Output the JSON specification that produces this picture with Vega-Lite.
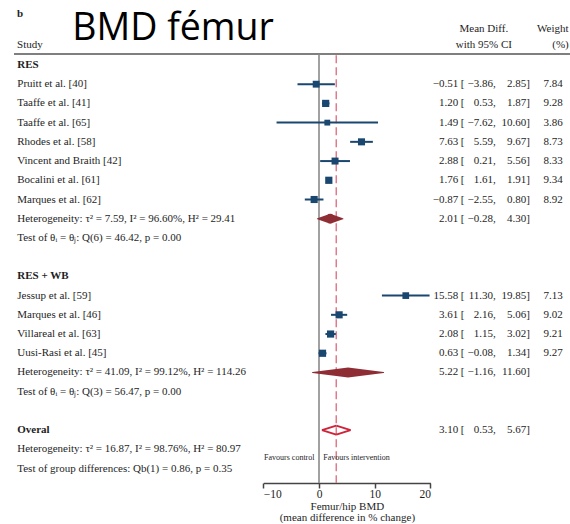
{
  "$schema": "https://vega.github.io/schema/vega-lite/v6.json",
  "width": 570,
  "height": 483,
  "padding": 0,
  "background": "white",
  "config": {
    "view": {"stroke": null},
    "text": {"font": "Liberation Serif", "fontSize": 11, "fill": "#1e1e1e"},
    "axisY": {"disable": true}
  },
  "datasets": {
    "forest": [
      {"row": 0, "label": "RES", "kind": "group"},
      {"row": 1, "label": "Pruitt et al. [40]", "kind": "study", "est": -0.51, "lower": -3.86, "upper": 2.85, "weight": 7.84},
      {"row": 2, "label": "Taaffe et al. [41]", "kind": "study", "est": 1.20, "lower": 0.53, "upper": 1.87, "weight": 9.28},
      {"row": 3, "label": "Taaffe et al. [65]", "kind": "study", "est": 1.49, "lower": -7.62, "upper": 10.60, "weight": 3.86},
      {"row": 4, "label": "Rhodes et al. [58]", "kind": "study", "est": 7.63, "lower": 5.59, "upper": 9.67, "weight": 8.73},
      {"row": 5, "label": "Vincent and Braith [42]", "kind": "study", "est": 2.88, "lower": 0.21, "upper": 5.56, "weight": 8.33},
      {"row": 6, "label": "Bocalini et al. [61]", "kind": "study", "est": 1.76, "lower": 1.61, "upper": 1.91, "weight": 9.34},
      {"row": 7, "label": "Marques et al. [62]", "kind": "study", "est": -0.87, "lower": -2.55, "upper": 0.80, "weight": 8.92},
      {"row": 8, "label": "Heterogeneity: τ² = 7.59, I² = 96.60%, H² = 29.41", "kind": "subtotal", "est": 2.01, "lower": -0.28, "upper": 4.30},
      {"row": 9, "label": "Test of θᵢ = θⱼ: Q(6) = 46.42, p = 0.00", "kind": "note"},
      {"row": 11, "label": "RES + WB", "kind": "group"},
      {"row": 12, "label": "Jessup et al. [59]", "kind": "study", "est": 15.58, "lower": 11.30, "upper": 19.85, "weight": 7.13},
      {"row": 13, "label": "Marques et al. [46]", "kind": "study", "est": 3.61, "lower": 2.16, "upper": 5.06, "weight": 9.02},
      {"row": 14, "label": "Villareal et al. [63]", "kind": "study", "est": 2.08, "lower": 1.15, "upper": 3.02, "weight": 9.21},
      {"row": 15, "label": "Uusi-Rasi et al. [45]", "kind": "study", "est": 0.63, "lower": -0.08, "upper": 1.34, "weight": 9.27},
      {"row": 16, "label": "Heterogeneity: τ² = 41.09, I² = 99.12%, H² = 114.26", "kind": "subtotal", "est": 5.22, "lower": -1.16, "upper": 11.60},
      {"row": 17, "label": "Test of θᵢ = θⱼ: Q(3) = 56.47, p = 0.00", "kind": "note"},
      {"row": 19, "label": "Overal", "kind": "overall", "est": 3.10, "lower": 0.53, "upper": 5.67},
      {"row": 20, "label": "Heterogeneity: τ² = 16.87, I² = 98.76%, H² = 80.97", "kind": "note"},
      {"row": 21, "label": "Test of group differences: Qb(1) = 0.86, p = 0.35", "kind": "note"}
    ]
  },
  "data": {"name": "forest"},
  "layer": [
    {
      "data": {"values": [{}]},
      "mark": {"type": "rule", "color": "#555555", "strokeWidth": 1.5},
      "encoding": {
        "x": {"datum": -54.76, "type": "quantitative",
              "scale": {"domain": [-10, 20], "range": [263.3, 430.4], "nice": false, "zero": false}},
        "x2": {"datum": 45.06},
        "y": {"datum": -0.57, "type": "quantitative",
              "scale": {"domain": [-3.38, 21.75], "reverse": true, "nice": false, "zero": false}}
      }
    },
    {
      "data": {"values": [{}]},
      "mark": {"type": "rule", "color": "#8a8a8a", "strokeWidth": 1.6},
      "encoding": {
        "x": {"datum": 0, "type": "quantitative"},
        "y": {"datum": -0.57, "type": "quantitative"},
        "y2": {"datum": 21.75}
      }
    },
    {
      "transform": [{"filter": "datum.kind === 'overall'"}],
      "mark": {"type": "rule", "color": "#e07b89", "strokeWidth": 1.5, "strokeDash": [8, 4]},
      "encoding": {
        "x": {"field": "est", "type": "quantitative"},
        "y": {"datum": -0.5, "type": "quantitative"},
        "y2": {"datum": 21.75}
      }
    },
    {
      "transform": [{"filter": "datum.kind === 'study'"}],
      "mark": {"type": "rule", "color": "#1a476f", "strokeWidth": 2},
      "encoding": {
        "x": {"field": "lower", "type": "quantitative",
              "axis": {
                "values": [-10, 0, 10, 20],
                "format": "d",
                "grid": false,
                "domainColor": "#444444", "domainWidth": 1.5,
                "tickColor": "#444444", "tickWidth": 1.5, "tickSize": 5,
                "labelFont": "Liberation Serif", "labelFontSize": 11.5, "labelColor": "#1e1e1e", "labelPadding": 0,
                "title": ["Femur/hip BMD", "(mean difference in % change)"],
                "titleFont": "Liberation Serif", "titleFontSize": 11, "titleFontWeight": "normal",
                "titleColor": "#1e1e1e", "titlePadding": 1, "titleLineHeight": 11
              }},
        "x2": {"field": "upper"},
        "y": {"field": "row", "type": "quantitative"}
      }
    },
    {
      "transform": [{"filter": "datum.kind === 'study'"}],
      "mark": {"type": "point", "shape": "square", "filled": true, "color": "#1a476f", "opacity": 1},
      "encoding": {
        "x": {"field": "est", "type": "quantitative"},
        "y": {"field": "row", "type": "quantitative"},
        "size": {"field": "weight", "type": "quantitative",
                 "scale": {"domain": [3.86, 9.34], "range": [34, 52]}, "legend": null}
      }
    },
    {
      "transform": [
        {"filter": "datum.kind === 'subtotal'"},
        {"fold": ["lower", "est", "upper"], "as": ["key", "value"]}
      ],
      "mark": {"type": "trail", "color": "#8f2d35"},
      "encoding": {
        "x": {"field": "value", "type": "quantitative"},
        "y": {"field": "row", "type": "quantitative"},
        "detail": {"field": "label"},
        "size": {"condition": {"test": "datum.key === 'est'", "value": 10}, "value": 0}
      }
    },
    {
      "transform": [{"filter": "datum.kind === 'overall'"}],
      "mark": {"type": "rule", "color": "#cf2339", "strokeWidth": 2, "y2Offset": -4.5},
      "encoding": {
        "x": {"field": "lower", "type": "quantitative"},
        "x2": {"field": "est"},
        "y": {"field": "row", "type": "quantitative"},
        "y2": {"field": "row"}
      }
    },
    {
      "transform": [{"filter": "datum.kind === 'overall'"}],
      "mark": {"type": "rule", "color": "#cf2339", "strokeWidth": 2, "y2Offset": 4.5},
      "encoding": {
        "x": {"field": "lower", "type": "quantitative"},
        "x2": {"field": "est"},
        "y": {"field": "row", "type": "quantitative"},
        "y2": {"field": "row"}
      }
    },
    {
      "transform": [{"filter": "datum.kind === 'overall'"}],
      "mark": {"type": "rule", "color": "#cf2339", "strokeWidth": 2, "yOffset": -4.5},
      "encoding": {
        "x": {"field": "est", "type": "quantitative"},
        "x2": {"field": "upper"},
        "y": {"field": "row", "type": "quantitative"},
        "y2": {"field": "row"}
      }
    },
    {
      "transform": [{"filter": "datum.kind === 'overall'"}],
      "mark": {"type": "rule", "color": "#cf2339", "strokeWidth": 2, "yOffset": 4.5},
      "encoding": {
        "x": {"field": "est", "type": "quantitative"},
        "x2": {"field": "upper"},
        "y": {"field": "row", "type": "quantitative"},
        "y2": {"field": "row"}
      }
    },
    {
      "transform": [{"filter": "datum.kind !== 'group' && datum.kind !== 'overall'"}],
      "mark": {"type": "text", "align": "left", "baseline": "middle"},
      "encoding": {
        "x": {"datum": -54.17, "type": "quantitative"},
        "y": {"field": "row", "type": "quantitative"},
        "text": {"field": "label"}
      }
    },
    {
      "transform": [{"filter": "datum.kind === 'group' || datum.kind === 'overall'"}],
      "mark": {"type": "text", "align": "left", "baseline": "middle", "fontWeight": "bold"},
      "encoding": {
        "x": {"datum": -54.17, "type": "quantitative"},
        "y": {"field": "row", "type": "quantitative"},
        "text": {"field": "label"}
      }
    },
    {
      "transform": [{"filter": "isValid(datum.est)"}],
      "mark": {"type": "text", "align": "right", "baseline": "middle"},
      "encoding": {
        "x": {"datum": 25.01, "type": "quantitative"},
        "y": {"field": "row", "type": "quantitative"},
        "text": {"field": "est", "type": "quantitative", "format": ".2f"}
      }
    },
    {
      "transform": [{"filter": "isValid(datum.est)"}],
      "mark": {"type": "text", "align": "left", "baseline": "middle", "text": "["},
      "encoding": {
        "x": {"datum": 25.44, "type": "quantitative"},
        "y": {"field": "row", "type": "quantitative"}
      }
    },
    {
      "transform": [{"filter": "isValid(datum.lower)"}],
      "mark": {"type": "text", "align": "right", "baseline": "middle"},
      "encoding": {
        "x": {"datum": 31.24, "type": "quantitative"},
        "y": {"field": "row", "type": "quantitative"},
        "text": {"field": "lower", "type": "quantitative", "format": ".2f"}
      }
    },
    {
      "transform": [{"filter": "isValid(datum.lower)"}],
      "mark": {"type": "text", "align": "left", "baseline": "middle", "text": ","},
      "encoding": {
        "x": {"datum": 31.24, "type": "quantitative"},
        "y": {"field": "row", "type": "quantitative"}
      }
    },
    {
      "transform": [{"filter": "isValid(datum.upper)"}],
      "mark": {"type": "text", "align": "right", "baseline": "middle"},
      "encoding": {
        "x": {"datum": 37.21, "type": "quantitative"},
        "y": {"field": "row", "type": "quantitative"},
        "text": {"field": "upper", "type": "quantitative", "format": ".2f"}
      }
    },
    {
      "transform": [{"filter": "isValid(datum.upper)"}],
      "mark": {"type": "text", "align": "left", "baseline": "middle", "text": "]"},
      "encoding": {
        "x": {"datum": 37.21, "type": "quantitative"},
        "y": {"field": "row", "type": "quantitative"}
      }
    },
    {
      "transform": [{"filter": "isValid(datum.weight)"}],
      "mark": {"type": "text", "align": "right", "baseline": "middle"},
      "encoding": {
        "x": {"datum": 43.75, "type": "quantitative"},
        "y": {"field": "row", "type": "quantitative"},
        "text": {"field": "weight", "type": "quantitative", "format": ".2f"}
      }
    },
    {
      "data": {"values": [{}]},
      "mark": {"type": "text", "align": "left", "baseline": "middle", "fontWeight": "bold", "text": "b"},
      "encoding": {
        "x": {"datum": -54.2, "type": "quantitative"},
        "y": {"datum": -2.65, "type": "quantitative"}
      }
    },
    {
      "data": {"values": [{}]},
      "mark": {"type": "text", "align": "left", "baseline": "alphabetic", "font": "Open Sans",
               "fontSize": 37.5, "fill": "#000000", "text": "BMD fémur"},
      "encoding": {
        "x": {"datum": -44.3, "type": "quantitative"},
        "y": {"datum": -1.275, "type": "quantitative"}
      }
    },
    {
      "data": {"values": [{}]},
      "mark": {"type": "text", "align": "left", "baseline": "middle", "text": "Study"},
      "encoding": {
        "x": {"datum": -54.2, "type": "quantitative"},
        "y": {"datum": -1.04, "type": "quantitative"}
      }
    },
    {
      "data": {"values": [{}]},
      "mark": {"type": "text", "align": "center", "baseline": "middle", "text": ["Mean Diff.", "with 95% CI"], "lineHeight": 16},
      "encoding": {
        "x": {"datum": 29.6, "type": "quantitative"},
        "y": {"datum": -1.87, "type": "quantitative"}
      }
    },
    {
      "data": {"values": [{}]},
      "mark": {"type": "text", "align": "left", "baseline": "middle", "text": "Weight"},
      "encoding": {
        "x": {"datum": 39.14, "type": "quantitative"},
        "y": {"datum": -1.87, "type": "quantitative"}
      }
    },
    {
      "data": {"values": [{}]},
      "mark": {"type": "text", "align": "center", "baseline": "middle", "text": "(%)"},
      "encoding": {
        "x": {"datum": 43.36, "type": "quantitative"},
        "y": {"datum": -1.04, "type": "quantitative"}
      }
    },
    {
      "data": {"values": [{}]},
      "mark": {"type": "text", "align": "right", "baseline": "middle", "fontSize": 8, "dx": -4.5, "text": "Favours control"},
      "encoding": {
        "x": {"datum": 0, "type": "quantitative"},
        "y": {"datum": 20.45, "type": "quantitative"}
      }
    },
    {
      "data": {"values": [{}]},
      "mark": {"type": "text", "align": "left", "baseline": "middle", "fontSize": 8, "dx": 4.3, "text": "Favours intervention"},
      "encoding": {
        "x": {"datum": 0, "type": "quantitative"},
        "y": {"datum": 20.45, "type": "quantitative"}
      }
    }
  ]
}
